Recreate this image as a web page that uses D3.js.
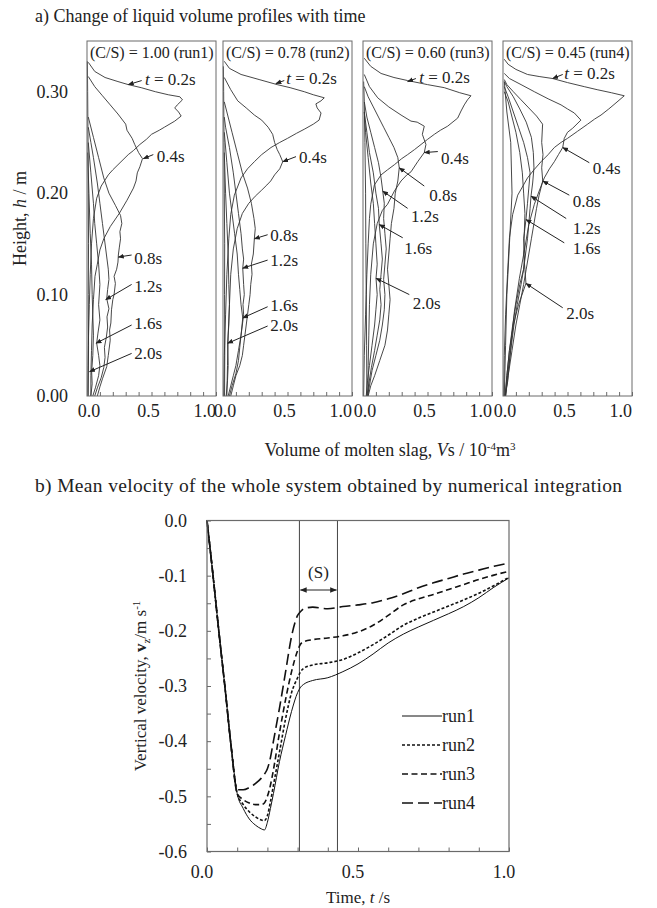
<!DOCTYPE html>
<html>
<head>
<meta charset="utf-8">
<script src="https://cdn.jsdelivr.net/npm/d3@7"></script>
<style>
  body { margin: 0; background: #fff; }
  svg { display: block; font-family: "Liberation Serif", "Times New Roman", serif; }
</style>
</head>
<body>
<svg id="chart" width="657" height="908"></svg>
<script>
// ---------------- data ----------------
const runs = ["run1", "run2", "run3", "run4"];
const csRatios = ["1.00", "0.78", "0.60", "0.45"];
const profileTimes = ["0.2s", "0.4s", "0.8s", "1.2s", "1.6s", "2.0s"];

// liquid volume profiles, each point is [V (10^-4 m3), h (m)]
// order: 0.2s, 0.4s, 0.8s, 1.2s, 1.6s, 2.0s, near-wall trace
const profilesRun1 = [
  [[0.005,0],[0.008,0.03],[0.012,0.06],[0.018,0.09],[0.025,0.12],[0.035,0.15],[0.05,0.175],[0.075,0.195],[0.11,0.207],[0.165,0.218],[0.2,0.223],[0.24,0.228],[0.32,0.238],[0.36,0.242],[0.41,0.248],[0.46,0.253],[0.5,0.258],[0.56,0.262],[0.6,0.265],[0.68,0.271],[0.73,0.276],[0.71,0.28],[0.68,0.284],[0.7,0.287],[0.74,0.292],[0.72,0.295],[0.63,0.297],[0.53,0.3],[0.42,0.304],[0.32,0.307],[0.24,0.31],[0.14,0.314],[0.06,0.32],[0.01,0.329]],
  [[0.03,0],[0.03,0.02],[0.035,0.045],[0.04,0.07],[0.05,0.095],[0.062,0.118],[0.08,0.13],[0.1,0.144],[0.13,0.155],[0.18,0.167],[0.25,0.18],[0.31,0.193],[0.36,0.205],[0.38,0.212],[0.39,0.22],[0.41,0.226],[0.43,0.234],[0.4,0.24],[0.37,0.248],[0.35,0.254],[0.31,0.262],[0.3,0.268],[0.24,0.278],[0.18,0.287],[0.12,0.296],[0.06,0.305],[0.01,0.315]],
  [[0.08,0],[0.1,0.009],[0.12,0.017],[0.153,0.029],[0.165,0.04],[0.18,0.055],[0.175,0.065],[0.185,0.072],[0.19,0.085],[0.2,0.095],[0.21,0.1],[0.22,0.111],[0.21,0.118],[0.23,0.125],[0.24,0.132],[0.243,0.139],[0.25,0.146],[0.26,0.155],[0.255,0.162],[0.27,0.17],[0.26,0.178],[0.22,0.188],[0.17,0.2],[0.13,0.215],[0.09,0.235],[0.05,0.255],[0.01,0.275]],
  [[0.06,0],[0.08,0.008],[0.11,0.018],[0.13,0.028],[0.14,0.038],[0.135,0.048],[0.15,0.058],[0.16,0.068],[0.155,0.078],[0.17,0.086],[0.153,0.096],[0.16,0.105],[0.17,0.115],[0.165,0.125],[0.15,0.14],[0.135,0.155],[0.12,0.17],[0.1,0.19],[0.08,0.21],[0.05,0.235],[0.03,0.25],[0.01,0.265]],
  [[0.045,0],[0.065,0.008],[0.09,0.02],[0.1,0.03],[0.09,0.04],[0.075,0.052],[0.085,0.062],[0.1,0.075],[0.09,0.09],[0.1,0.11],[0.09,0.13],[0.075,0.15],[0.06,0.17],[0.05,0.19],[0.03,0.22],[0.01,0.25]],
  [[0.03,0],[0.04,0.012],[0.036,0.024],[0.045,0.04],[0.05,0.06],[0.045,0.08],[0.04,0.1],[0.035,0.13],[0.025,0.16],[0.015,0.2],[0.005,0.24]],
  [[0.01,0],[0.012,0.05],[0.01,0.1],[0.012,0.15],[0.01,0.2],[0.008,0.25],[0.005,0.3],[0.003,0.33]]
];
const profilesRun2 = [
  [[0.005,0],[0.01,0.04],[0.02,0.08],[0.03,0.12],[0.045,0.155],[0.06,0.179],[0.088,0.198],[0.14,0.215],[0.19,0.224],[0.243,0.231],[0.3,0.238],[0.372,0.245],[0.44,0.25],[0.5,0.254],[0.57,0.259],[0.63,0.263],[0.7,0.268],[0.745,0.272],[0.76,0.279],[0.73,0.284],[0.72,0.288],[0.76,0.291],[0.785,0.294],[0.7,0.297],[0.63,0.3],[0.52,0.304],[0.42,0.307],[0.28,0.312],[0.14,0.317],[0.05,0.323],[0.01,0.33]],
  [[0.03,0],[0.035,0.03],[0.04,0.06],[0.05,0.09],[0.06,0.12],[0.08,0.145],[0.11,0.165],[0.15,0.18],[0.2,0.19],[0.25,0.197],[0.3,0.203],[0.34,0.208],[0.37,0.212],[0.4,0.218],[0.44,0.224],[0.463,0.231],[0.44,0.238],[0.42,0.243],[0.4,0.25],[0.385,0.258],[0.35,0.265],[0.3,0.272],[0.243,0.277],[0.18,0.284],[0.114,0.291],[0.06,0.302],[0.01,0.314]],
  [[0.06,0],[0.08,0.01],[0.1,0.02],[0.13,0.03],[0.15,0.04],[0.16,0.05],[0.17,0.06],[0.18,0.07],[0.19,0.08],[0.2,0.09],[0.21,0.1],[0.215,0.11],[0.225,0.12],[0.22,0.13],[0.235,0.14],[0.243,0.155],[0.25,0.165],[0.24,0.175],[0.22,0.19],[0.19,0.205],[0.15,0.22],[0.11,0.24],[0.07,0.26],[0.03,0.28],[0.01,0.29]],
  [[0.05,0],[0.07,0.01],[0.1,0.022],[0.12,0.035],[0.13,0.048],[0.14,0.06],[0.15,0.07],[0.16,0.08],[0.155,0.09],[0.165,0.1],[0.16,0.11],[0.153,0.126],[0.16,0.135],[0.15,0.145],[0.14,0.16],[0.12,0.18],[0.1,0.2],[0.08,0.22],[0.05,0.245],[0.02,0.265],[0.01,0.275]],
  [[0.04,0],[0.06,0.01],[0.08,0.02],[0.1,0.03],[0.12,0.045],[0.14,0.06],[0.153,0.077],[0.14,0.09],[0.13,0.105],[0.12,0.12],[0.11,0.14],[0.09,0.16],[0.07,0.18],[0.05,0.2],[0.03,0.23],[0.01,0.26]],
  [[0.025,0],[0.035,0.015],[0.04,0.03],[0.036,0.052],[0.045,0.07],[0.05,0.09],[0.045,0.11],[0.04,0.14],[0.03,0.17],[0.02,0.2],[0.01,0.24]],
  [[0.012,0],[0.014,0.05],[0.012,0.1],[0.013,0.15],[0.01,0.2],[0.008,0.25],[0.005,0.3],[0.003,0.325]]
];
const profilesRun3 = [
  [[0.005,0],[0.01,0.04],[0.02,0.08],[0.03,0.12],[0.04,0.15],[0.05,0.175],[0.06,0.189],[0.088,0.208],[0.14,0.218],[0.19,0.223],[0.243,0.228],[0.3,0.234],[0.346,0.238],[0.4,0.243],[0.45,0.248],[0.5,0.253],[0.553,0.258],[0.6,0.262],[0.656,0.266],[0.734,0.274],[0.76,0.281],[0.785,0.287],[0.81,0.292],[0.837,0.296],[0.75,0.299],[0.63,0.304],[0.5,0.307],[0.346,0.311],[0.24,0.314],[0.14,0.318],[0.06,0.325],[0.01,0.333]],
  [[0.04,0],[0.04,0.03],[0.045,0.06],[0.05,0.09],[0.06,0.12],[0.08,0.15],[0.11,0.17],[0.15,0.183],[0.19,0.189],[0.243,0.202],[0.295,0.212],[0.34,0.218],[0.372,0.221],[0.424,0.231],[0.475,0.24],[0.488,0.248],[0.46,0.258],[0.475,0.266],[0.42,0.27],[0.372,0.271],[0.295,0.277],[0.2,0.285],[0.114,0.294],[0.05,0.305],[0.01,0.317]],
  [[0.04,0],[0.06,0.01],[0.09,0.02],[0.13,0.035],[0.17,0.05],[0.19,0.065],[0.2,0.08],[0.21,0.095],[0.2,0.11],[0.19,0.125],[0.2,0.14],[0.21,0.155],[0.22,0.17],[0.24,0.185],[0.25,0.2],[0.27,0.212],[0.281,0.225],[0.27,0.235],[0.24,0.245],[0.2,0.255],[0.16,0.265],[0.12,0.275],[0.08,0.285],[0.04,0.295],[0.01,0.305]],
  [[0.035,0],[0.05,0.01],[0.07,0.025],[0.1,0.04],[0.13,0.055],[0.15,0.07],[0.165,0.085],[0.17,0.1],[0.16,0.115],[0.17,0.13],[0.18,0.145],[0.17,0.16],[0.16,0.175],[0.165,0.19],[0.153,0.202],[0.14,0.215],[0.12,0.23],[0.09,0.245],[0.06,0.26],[0.03,0.275],[0.01,0.29]],
  [[0.03,0],[0.045,0.012],[0.065,0.028],[0.09,0.045],[0.11,0.06],[0.13,0.075],[0.14,0.09],[0.13,0.105],[0.14,0.12],[0.15,0.135],[0.14,0.15],[0.126,0.169],[0.12,0.185],[0.1,0.2],[0.08,0.22],[0.05,0.24],[0.03,0.26],[0.01,0.28]],
  [[0.025,0],[0.035,0.015],[0.05,0.03],[0.07,0.05],[0.09,0.07],[0.1,0.085],[0.11,0.1],[0.101,0.116],[0.11,0.13],[0.1,0.15],[0.09,0.17],[0.08,0.19],[0.06,0.21],[0.04,0.235],[0.02,0.26],[0.01,0.28]],
  [[0.03,0],[0.028,0.05],[0.025,0.1],[0.022,0.15],[0.02,0.2],[0.015,0.25],[0.01,0.29],[0.005,0.31]]
];
const profilesRun4 = [
  [[0.005,0],[0.01,0.04],[0.02,0.08],[0.035,0.12],[0.05,0.156],[0.075,0.179],[0.114,0.198],[0.19,0.215],[0.24,0.223],[0.295,0.231],[0.35,0.238],[0.398,0.245],[0.45,0.25],[0.5,0.254],[0.578,0.261],[0.656,0.268],[0.71,0.273],[0.76,0.277],[0.82,0.283],[0.876,0.289],[0.94,0.296],[0.84,0.299],[0.73,0.302],[0.63,0.305],[0.5,0.309],[0.385,0.313],[0.28,0.315],[0.19,0.317],[0.1,0.322],[0.04,0.327],[0.01,0.332]],
  [[0.015,0],[0.036,0.014],[0.062,0.05],[0.088,0.083],[0.127,0.116],[0.165,0.143],[0.2,0.169],[0.243,0.189],[0.28,0.202],[0.32,0.215],[0.36,0.224],[0.398,0.231],[0.43,0.238],[0.463,0.245],[0.475,0.254],[0.5,0.26],[0.54,0.264],[0.604,0.272],[0.553,0.279],[0.5,0.283],[0.45,0.287],[0.35,0.293],[0.243,0.3],[0.14,0.307],[0.05,0.313],[0.01,0.318]],
  [[0.02,0],[0.04,0.02],[0.07,0.045],[0.1,0.07],[0.13,0.09],[0.16,0.11],[0.18,0.125],[0.2,0.14],[0.22,0.155],[0.24,0.17],[0.26,0.185],[0.28,0.198],[0.308,0.212],[0.3,0.225],[0.31,0.238],[0.3,0.25],[0.307,0.268],[0.26,0.276],[0.2,0.284],[0.14,0.292],[0.08,0.3],[0.03,0.307],[0.01,0.312]],
  [[0.02,0],[0.035,0.02],[0.06,0.045],[0.085,0.07],[0.11,0.09],[0.14,0.11],[0.16,0.125],[0.175,0.14],[0.19,0.155],[0.2,0.17],[0.21,0.185],[0.217,0.197],[0.23,0.21],[0.24,0.225],[0.235,0.24],[0.22,0.255],[0.18,0.27],[0.13,0.283],[0.08,0.295],[0.03,0.305],[0.01,0.31]],
  [[0.02,0],[0.03,0.02],[0.05,0.045],[0.075,0.07],[0.1,0.09],[0.13,0.11],[0.16,0.125],[0.17,0.14],[0.16,0.155],[0.178,0.174],[0.19,0.19],[0.2,0.205],[0.21,0.22],[0.19,0.235],[0.16,0.25],[0.12,0.265],[0.08,0.28],[0.04,0.295],[0.01,0.305]],
  [[0.015,0],[0.03,0.02],[0.05,0.045],[0.08,0.07],[0.12,0.09],[0.178,0.111],[0.17,0.125],[0.16,0.14],[0.165,0.16],[0.17,0.18],[0.16,0.2],[0.15,0.22],[0.13,0.24],[0.1,0.26],[0.07,0.275],[0.04,0.29],[0.01,0.3]],
  [[0.01,0],[0.02,0.05],[0.03,0.1],[0.05,0.15],[0.07,0.2],[0.06,0.25],[0.03,0.28],[0.01,0.31]]
];
const allProfiles = [profilesRun1, profilesRun2, profilesRun3, profilesRun4];

// arrow annotations per run: [tipV, tipH, tailV, tailH, textV, textH] for each time label
const notesRun1 = [[0.32,0.307,0.424,0.311,0.45,0.312],[0.436,0.234,0.514,0.238,0.54,0.237],[0.243,0.137,0.346,0.139,0.367,0.136],[0.145,0.095,0.346,0.11,0.367,0.108],[0.07,0.052,0.346,0.07,0.367,0.072],[0.02,0.024,0.346,0.042,0.367,0.042]];
const notesRun2 = [[0.41,0.308,0.475,0.311,0.49,0.313],[0.463,0.231,0.566,0.236,0.59,0.236],[0.243,0.155,0.346,0.159,0.367,0.159],[0.153,0.126,0.346,0.134,0.367,0.134],[0.153,0.077,0.346,0.088,0.367,0.09],[0.036,0.052,0.346,0.069,0.367,0.07]];
const notesRun3 = [[0.346,0.31,0.41,0.313,0.436,0.314],[0.475,0.24,0.58,0.241,0.605,0.235],[0.281,0.225,0.475,0.207,0.514,0.198],[0.153,0.202,0.346,0.185,0.372,0.177],[0.126,0.169,0.308,0.156,0.32,0.146],[0.101,0.116,0.359,0.1,0.385,0.092]];
const notesRun4 = [[0.385,0.313,0.463,0.317,0.475,0.318],[0.463,0.245,0.669,0.23,0.695,0.225],[0.308,0.212,0.514,0.198,0.54,0.192],[0.217,0.197,0.49,0.175,0.54,0.166],[0.178,0.174,0.475,0.151,0.54,0.146],[0.178,0.111,0.463,0.087,0.49,0.082]];
const allNotes = [notesRun1, notesRun2, notesRun3, notesRun4];

const heightTicks = [0, 0.1, 0.2, 0.3];
const volumeLabels = [0, 0.5, 1];

// mean vertical velocity (m/s) vs time (s)
const timeGrid = [0,0.02,0.04,0.06,0.08,0.1,0.12,0.14,0.16,0.18,0.19,0.2,0.21,0.22,0.24,0.26,0.28,0.3,0.31,0.32,0.35,0.4,0.45,0.5,0.55,0.6,0.65,0.7,0.75,0.8,0.85,0.9,0.95,1.0];
const vzRun1 = [0,-0.1,-0.205,-0.305,-0.41,-0.495,-0.522,-0.541,-0.552,-0.559,-0.561,-0.547,-0.522,-0.495,-0.437,-0.39,-0.346,-0.312,-0.302,-0.297,-0.29,-0.285,-0.274,-0.26,-0.242,-0.222,-0.206,-0.193,-0.181,-0.169,-0.156,-0.14,-0.121,-0.104];
const vzRun2 = [0,-0.1,-0.205,-0.305,-0.41,-0.495,-0.515,-0.528,-0.537,-0.543,-0.544,-0.535,-0.51,-0.48,-0.42,-0.36,-0.312,-0.285,-0.274,-0.268,-0.262,-0.258,-0.252,-0.24,-0.225,-0.208,-0.19,-0.177,-0.166,-0.155,-0.144,-0.132,-0.118,-0.103];
const vzRun3 = [0,-0.1,-0.205,-0.305,-0.41,-0.495,-0.506,-0.512,-0.515,-0.515,-0.512,-0.5,-0.48,-0.452,-0.385,-0.325,-0.274,-0.236,-0.224,-0.22,-0.216,-0.213,-0.209,-0.202,-0.19,-0.172,-0.153,-0.142,-0.134,-0.125,-0.116,-0.107,-0.099,-0.092];
const vzRun4 = [0,-0.1,-0.205,-0.305,-0.41,-0.488,-0.488,-0.484,-0.477,-0.467,-0.46,-0.45,-0.43,-0.4,-0.34,-0.275,-0.21,-0.172,-0.165,-0.16,-0.157,-0.16,-0.156,-0.153,-0.149,-0.142,-0.133,-0.122,-0.113,-0.105,-0.097,-0.09,-0.083,-0.077];
const allVz = [vzRun1, vzRun2, vzRun3, vzRun4];
const velocityTicks = [0, -0.1, -0.2, -0.3, -0.4, -0.5, -0.6];
const timeLabels = [0, 0.5, 1];
const gapBounds = [0.306, 0.432]; // the (S) interval

// ---------------- layout ----------------
const svg = d3.select("#chart");
const ink = "#222";
const frameColor = "#6a6a6a";
const dashes = ["none", "3,2", "6,3.5", "11,5"];

svg.append("text").attr("x", 35).attr("y", 22).attr("font-size", 18).attr("fill", ink)
  .text("a) Change of liquid volume profiles with time");

// arrow markers
const defs = svg.append("defs");
defs.append("marker")
  .attr("id", "tip").attr("viewBox", "0 0 10 10").attr("refX", 9).attr("refY", 5)
  .attr("markerWidth", 6).attr("markerHeight", 6).attr("markerUnits", "userSpaceOnUse")
  .attr("orient", "auto")
  .append("path").attr("d", "M0,1 L10,5 L0,9 Z").attr("fill", ink);
defs.append("marker")
  .attr("id", "tipBoth").attr("viewBox", "0 0 10 10").attr("refX", 9).attr("refY", 5)
  .attr("markerWidth", 7).attr("markerHeight", 7).attr("markerUnits", "userSpaceOnUse")
  .attr("orient", "auto-start-reverse")
  .append("path").attr("d", "M0,1 L10,5 L0,9 Z").attr("fill", ink);

// ---- panel a ----
const boxLefts = [87, 223, 363, 503];
const boxW = 129;
const boxTop = 41, boxBottom = 396;
const yH = d3.scaleLinear().domain([0, 0.35]).range([boxBottom, boxTop]);

runs.forEach((run, i) => {
  const x = d3.scaleLinear().domain([0, 1]).range([boxLefts[i], boxLefts[i] + boxW]);
  const g = svg.append("g");

  const line = d3.line().x(d => x(d[0])).y(d => yH(d[1]));
  g.selectAll("path.prof")
    .data(allProfiles[i])
    .enter().append("path")
    .attr("class", "prof")
    .attr("d", line)
    .attr("fill", "none")
    .attr("stroke", "#333")
    .attr("stroke-width", 0.9);

  // frame
  g.append("rect")
    .attr("x", boxLefts[i]).attr("y", boxTop)
    .attr("width", boxW).attr("height", boxBottom - boxTop)
    .attr("fill", "none").attr("stroke", frameColor).attr("stroke-width", 1);

  // bottom ticks pointing inward
  const ax = g.append("g").attr("transform", `translate(0,${boxBottom})`)
    .call(d3.axisBottom(x).tickValues(d3.range(0, 1.0001, 0.1)).tickSizeInner(-4).tickSizeOuter(0).tickFormat(""));
  ax.select(".domain").remove();
  ax.selectAll("line").attr("stroke", frameColor);

  // tick labels (pulled in a little, so neighbours read "1.00.0" as in the original)
  g.selectAll("text.vl")
    .data(volumeLabels)
    .enter().append("text")
    .attr("class", "vl")
    .attr("x", d => x(d) + (d === 0 ? 2 : d === 1 ? 0 : -3))
    .attr("y", 417)
    .attr("text-anchor", d => (d === 1 ? "end" : "middle"))
    .attr("font-size", 18).attr("fill", ink)
    .text(d => d.toFixed(1));

  // header
  g.append("text").attr("x", boxLefts[i] + 3).attr("y", 58)
    .attr("font-size", 16).attr("fill", ink)
    .text(`(C/S) = ${csRatios[i]} (${run})`);

  // arrow annotations
  allNotes[i].forEach((n, k) => {
    g.append("line")
      .attr("x1", x(n[2])).attr("y1", yH(n[3]))
      .attr("x2", x(n[0])).attr("y2", yH(n[1]))
      .attr("stroke", ink).attr("stroke-width", 1)
      .attr("marker-end", "url(#tip)");
    const t = g.append("text").attr("x", x(n[4])).attr("y", yH(n[5]))
      .attr("dy", "0.35em").attr("font-size", 17).attr("fill", ink);
    if (k === 0) {
      t.append("tspan").attr("font-style", "italic").text("t");
      t.append("tspan").text(" = " + profileTimes[k]);
    } else {
      t.text(profileTimes[k]);
    }
  });
});

// height axis labels
svg.selectAll("text.hl")
  .data(heightTicks)
  .enter().append("text")
  .attr("class", "hl")
  .attr("x", 68).attr("y", d => yH(d)).attr("dy", "0.35em")
  .attr("text-anchor", "end").attr("font-size", 18).attr("fill", ink)
  .text(d => d.toFixed(2));

const hTitle = svg.append("text")
  .attr("transform", `translate(26,${(boxTop + boxBottom) / 2}) rotate(-90)`)
  .attr("text-anchor", "middle").attr("font-size", 18).attr("fill", ink);
hTitle.append("tspan").text("Height, ");
hTitle.append("tspan").attr("font-style", "italic").text("h");
hTitle.append("tspan").text(" / m");

const vTitle = svg.append("text").attr("x", 390).attr("y", 456)
  .attr("text-anchor", "middle").attr("font-size", 18).attr("fill", ink);
vTitle.append("tspan").text("Volume of molten slag, ");
vTitle.append("tspan").attr("font-style", "italic").text("V");
vTitle.append("tspan").text("s / 10");
vTitle.append("tspan").attr("font-size", 11).attr("dy", -6).text("-4");
vTitle.append("tspan").attr("dy", 6).text("m");
vTitle.append("tspan").attr("font-size", 11).attr("dy", -6).text("3");

// ---- panel b ----
svg.append("text").attr("x", 35).attr("y", 492).attr("font-size", 19.5).attr("fill", ink)
  .attr("textLength", 587).attr("lengthAdjust", "spacing")
  .text("b) Mean velocity of the whole system obtained by numerical integration");

const bLeft = 207, bRight = 509, bTop = 520.5, bBottom = 851.5;
const xT = d3.scaleLinear().domain([0, 1]).range([bLeft, bRight]);
const yV = d3.scaleLinear().domain([-0.6, 0]).range([bBottom, bTop]);
const gb = svg.append("g");

const yAxis = gb.append("g").attr("transform", `translate(${bLeft},0)`)
  .call(d3.axisLeft(yV).tickValues(d3.range(0, -0.6001, -0.05)).tickSizeInner(-4).tickSizeOuter(0)
    .tickPadding(20)
    .tickFormat(d => (velocityTicks.some(v => Math.abs(v - d) < 1e-6) ? d.toFixed(1).replace("-0.0", "0.0") : "")));
yAxis.select(".domain").remove();
yAxis.selectAll("line").attr("stroke", frameColor);
yAxis.selectAll("text").attr("font-size", 18).attr("fill", ink).attr("font-family", "Liberation Serif");

const xAxis = gb.append("g").attr("transform", `translate(0,${bBottom})`)
  .call(d3.axisBottom(xT).tickValues(d3.range(0, 1.0001, 0.1)).tickSizeInner(-4).tickSizeOuter(0).tickFormat(""));
xAxis.select(".domain").remove();
xAxis.selectAll("line").attr("stroke", frameColor);

gb.selectAll("text.tl")
  .data(timeLabels)
  .enter().append("text")
  .attr("class", "tl")
  .attr("x", d => xT(d) - 5).attr("y", 878)
  .attr("text-anchor", "middle").attr("font-size", 18).attr("fill", ink)
  .text(d => d.toFixed(1));

// (S) interval
gb.selectAll("line.gap")
  .data(gapBounds)
  .enter().append("line")
  .attr("class", "gap")
  .attr("x1", d => xT(d)).attr("x2", d => xT(d))
  .attr("y1", bTop).attr("y2", bBottom)
  .attr("stroke", "#444").attr("stroke-width", 1);
gb.append("line")
  .attr("x1", xT(gapBounds[0]) + 1).attr("x2", xT(gapBounds[1]) - 1)
  .attr("y1", 590).attr("y2", 590)
  .attr("stroke", ink).attr("stroke-width", 1.2)
  .attr("marker-start", "url(#tipBoth)").attr("marker-end", "url(#tipBoth)");
gb.append("text").attr("x", (xT(gapBounds[0]) + xT(gapBounds[1])) / 2).attr("y", 578)
  .attr("text-anchor", "middle").attr("font-size", 17).attr("fill", ink).text("(S)");

// velocity curves
const vLine = d3.line().x((d, k) => xT(timeGrid[k])).y(d => yV(d)).curve(d3.curveMonotoneX);
gb.selectAll("path.vz")
  .data(allVz)
  .enter().append("path")
  .attr("class", "vz")
  .attr("d", vLine)
  .attr("fill", "none")
  .attr("stroke", "#111")
  .attr("stroke-width", (d, i) => (i === 0 ? 1 : 1.6))
  .attr("stroke-dasharray", (d, i) => dashes[i]);

gb.append("rect")
  .attr("x", bLeft).attr("y", bTop).attr("width", bRight - bLeft).attr("height", bBottom - bTop)
  .attr("fill", "none").attr("stroke", frameColor).attr("stroke-width", 1.2);

// legend
const legend = gb.selectAll("g.leg")
  .data(runs)
  .enter().append("g")
  .attr("class", "leg")
  .attr("transform", (d, i) => `translate(402,${716 + i * 29})`);
legend.append("line")
  .attr("x1", 0).attr("x2", 40).attr("y1", 0).attr("y2", 0)
  .attr("stroke", "#111")
  .attr("stroke-width", (d, i) => (i === 0 ? 1 : 1.6))
  .attr("stroke-dasharray", (d, i) => dashes[i]);
legend.append("text")
  .attr("x", 40).attr("y", 0).attr("dy", "0.35em")
  .attr("font-size", 18).attr("fill", ink)
  .text(d => d);

// axis titles
const vzTitle = svg.append("text")
  .attr("transform", `translate(146,${(bTop + bBottom) / 2}) rotate(-90)`)
  .attr("text-anchor", "middle").attr("font-size", 17).attr("fill", ink);
vzTitle.append("tspan").text("Vertical velocity, ");
vzTitle.append("tspan").attr("font-weight", "bold").text("v");
vzTitle.append("tspan").attr("font-size", 11).attr("dy", 4).text("z");
vzTitle.append("tspan").attr("dy", -4).text("/m s");
vzTitle.append("tspan").attr("font-size", 11).attr("dy", -6).text("-1");

const tTitle = svg.append("text").attr("x", 358).attr("y", 903)
  .attr("text-anchor", "middle").attr("font-size", 17).attr("fill", ink);
tTitle.append("tspan").text("Time, ");
tTitle.append("tspan").attr("font-style", "italic").text("t");
tTitle.append("tspan").text(" /s");
</script>
</body>
</html>
